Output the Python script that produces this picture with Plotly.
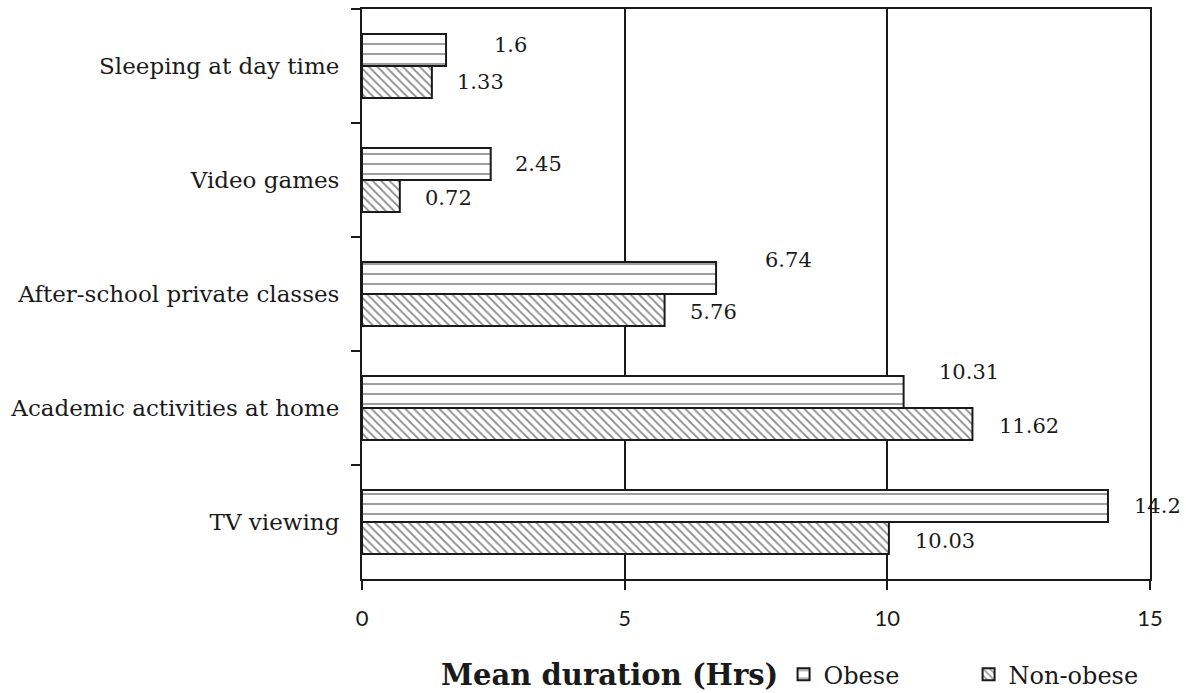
import plotly.graph_objects as go

# Daily activity durations, listed top to bottom
activities = [
    "Sleeping at day time",
    "Video games",
    "After-school private classes",
    "Academic activities at home",
    "TV viewing",
]
obese = [1.6, 2.45, 6.74, 10.31, 14.2]
non_obese = [1.33, 0.72, 5.76, 11.62, 10.03]
x_ticks = [0, 5, 10, 15]

# Pixel nudges for the value labels (x gap after bar end, vertical lift)
obese_label_dx = [46, 22, 47, 33, 24]
obese_label_dy = [5, 0, 18, 20, 0]
non_obese_label_dx = [23, 23, 23, 25, 24]
non_obese_label_dy = [0, -2, -2, -2, -3]

SERIF = "DejaVu Serif"
INK = "#1a1a1a"

fig = go.Figure()

fig.add_trace(go.Bar(
    name="Obese",
    y=activities,
    x=obese,
    orientation="h",
    marker=dict(
        color="white",
        line=dict(color=INK, width=2),
        pattern=dict(shape="-", fgcolor="#2a2a2a", bgcolor="white",
                     size=10, solidity=0.18),
    ),
))
fig.add_trace(go.Bar(
    name="Non-obese",
    y=activities,
    x=non_obese,
    orientation="h",
    marker=dict(
        color="white",
        line=dict(color=INK, width=2),
        pattern=dict(shape="\\", fgcolor="#111111", bgcolor="white",
                     size=6, solidity=0.3),
    ),
))

# Value labels next to each bar
annotations = []
for cat, v, dx, dy in zip(activities, obese, obese_label_dx, obese_label_dy):
    annotations.append(dict(
        x=v, y=cat, xref="x", yref="y", text=f"{v:g}", showarrow=False,
        xanchor="left", yanchor="middle", xshift=dx, yshift=16 + dy,
        font=dict(family=SERIF, size=21, color=INK),
    ))
for cat, v, dx, dy in zip(activities, non_obese, non_obese_label_dx, non_obese_label_dy):
    annotations.append(dict(
        x=v, y=cat, xref="x", yref="y", text=f"{v:g}", showarrow=False,
        xanchor="left", yanchor="middle", xshift=dx, yshift=-16 + dy,
        font=dict(family=SERIF, size=21, color=INK),
    ))

# Axis title placed under the left half of the plot
annotations.append(dict(
    x=0.314, y=-0.168, xref="paper", yref="paper",
    text="<b>Mean duration (Hrs)</b>", showarrow=False,
    xanchor="center", yanchor="middle",
    font=dict(family=SERIF, size=29, color=INK),
))

fig.update_layout(
    width=1186,
    height=693,
    margin=dict(l=362, r=36, t=9, b=114, autoexpand=False),
    paper_bgcolor="white",
    plot_bgcolor="white",
    barmode="group",
    bargap=0.44,
    bargroupgap=0,
    showlegend=True,
    legend=dict(
        orientation="h",
        x=0.535, y=-0.168,
        xanchor="left", yanchor="middle",
        entrywidth=140,
        font=dict(family=SERIF, size=24, color=INK),
        bgcolor="rgba(0,0,0,0)",
    ),
    annotations=annotations,
)

fig.update_xaxes(
    range=[0, 15],
    tickvals=x_ticks,
    ticktext=[str(t) for t in x_ticks],
    showgrid=True,
    gridcolor=INK,
    gridwidth=2,
    zeroline=False,
    showline=True,
    linecolor=INK,
    linewidth=2,
    mirror=True,
    ticks="outside",
    ticklen=9,
    tickwidth=2,
    tickcolor=INK,
    ticklabelstandoff=10,
    automargin=False,
    tickfont=dict(family="Lato", size=22, color=INK),
)

fig.update_yaxes(
    type="category",
    categoryorder="array",
    categoryarray=activities,
    autorange="reversed",
    showgrid=False,
    zeroline=False,
    showline=True,
    linecolor=INK,
    linewidth=2,
    mirror=True,
    ticks="outside",
    tickson="boundaries",
    ticklen=9,
    tickwidth=2,
    tickcolor=INK,
    ticklabelstandoff=16,
    automargin=False,
    tickfont=dict(family=SERIF, size=23, color=INK),
)

fig.write_html("out.html")
